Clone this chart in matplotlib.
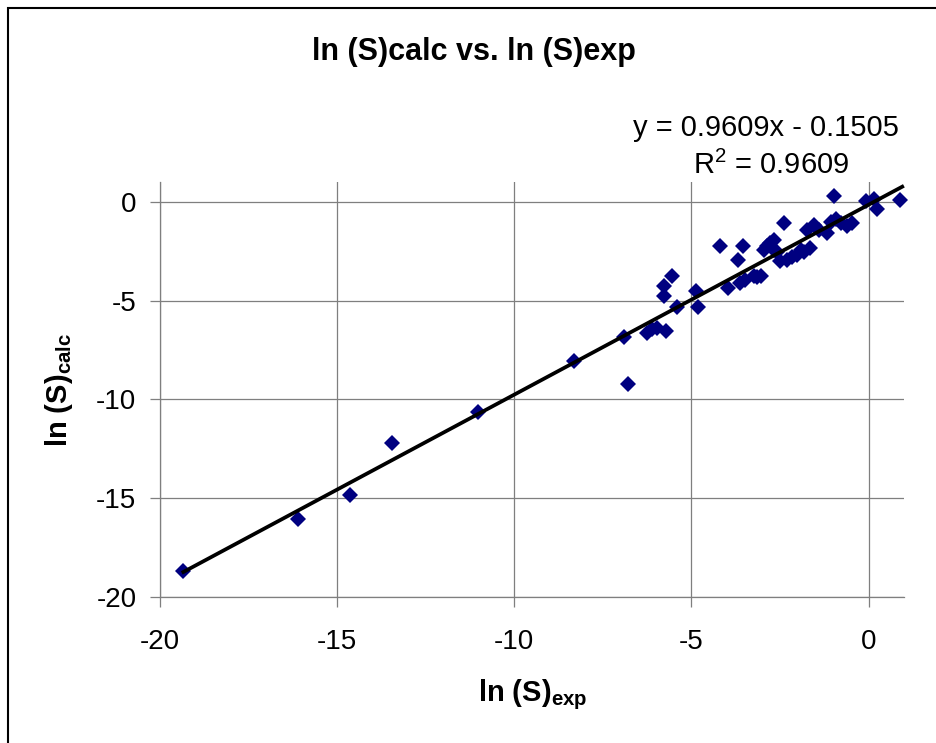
import matplotlib
matplotlib.use("Agg")
import matplotlib.pyplot as plt
import numpy as np
from matplotlib.patches import Rectangle

plt.rcParams['font.family'] = ['Liberation Sans', 'DejaVu Sans']
plt.rcParams['mathtext.fontset'] = 'custom'
plt.rcParams['mathtext.rm'] = 'Liberation Sans'
plt.rcParams['mathtext.bf'] = 'Liberation Sans:bold'
plt.rcParams['axes.unicode_minus'] = False

# Data
ln_s_exp = [-19.34, -16.11, -14.65, -13.46, -11.03, -8.32, -6.91, -6.78,
            -6.25, -6.10, -5.97, -5.72, -5.78, -5.55, -5.78, -5.42,
            -4.87, -4.81, -4.20, -3.96, -3.68, -3.54, -3.62, -3.50,
            -3.24, -3.14, -3.05, -2.96, -2.86, -2.77, -2.68, -2.68,
            -2.58, -2.49, -2.39, -2.30, -2.16, -2.01, -1.92, -1.83,
            -1.64, -1.73, -1.55, -1.40, -1.17, -1.07, -0.93, -0.79,
            -0.60, -0.46, -0.98, -0.06, 0.15, 0.25, 0.90]
ln_s_calc = [-18.67, -16.05, -14.82, -12.19, -10.65, -8.04, -6.82, -9.22,
             -6.62, -6.45, -6.40, -6.52, -4.25, -3.78, -4.79, -5.30,
             -4.54, -5.30, -2.26, -4.37, -2.94, -2.26, -4.12, -3.95,
             -3.78, -3.81, -3.78, -2.43, -2.26, -2.09, -1.92, -2.43,
             -2.52, -3.02, -1.05, -2.94, -2.77, -2.68, -2.43, -2.52,
             -2.34, -1.42, -1.16, -1.42, -1.58, -1.00, -0.88, -1.08,
             -1.25, -1.08, 0.30, 0.02, 0.14, -0.37, 0.07]
slope = 0.9609
intercept = -0.1505
r2 = 0.9609
x_ticks = [-20, -15, -10, -5, 0]
y_ticks = [-20, -15, -10, -5, 0]

W, H = 937, 743
fig = plt.figure(figsize=(W / 100, H / 100), dpi=100)
fig.patch.set_facecolor('white')
fig.patches.append(Rectangle((8 / W, -0.1), 2, 1.1 - 8 / H, transform=fig.transFigure,
                             fill=False, edgecolor='black', linewidth=1.5))

ax = fig.add_axes([160 / W, 1 - 597 / H, (904 - 160) / W, (597 - 182) / H])
ax.set_xlim(-20, 1)
ax.set_ylim(-20, 1)
ax.set_xticks(x_ticks)
ax.set_yticks(y_ticks)
ax.grid(True, color='#7f7f7f', linewidth=0.9)
ax.set_axisbelow(True)
for s in ['top', 'right']:
    ax.spines[s].set_visible(False)
for s in ['left', 'bottom']:
    ax.spines[s].set_color('#7f7f7f')
    ax.spines[s].set_linewidth(0.9)
ax.tick_params(axis='both', colors='#7f7f7f', length=7, width=0.9, labelsize=20,
               labelcolor='black')
ax.tick_params(axis='x', pad=16)
ax.tick_params(axis='y', pad=10)

ax.plot(ln_s_exp, ln_s_calc, linestyle='none', marker='D', markersize=8.5,
        color='#000080', markeredgewidth=0, zorder=3, clip_on=False)
xl = np.array([min(ln_s_exp), max(ln_s_exp) + 0.05])
ax.plot(xl, slope * xl + intercept, color='black', linewidth=2.7, zorder=4,
        clip_on=False)

fig.text(474 / W, 1 - 52 / H, 'ln (S)calc vs. ln (S)exp', ha='center', va='center',
         fontsize=22, fontweight='bold')
fig.text(899 / W, 1 - 128 / H, f'y = {slope:.4f}x - {abs(intercept):.4f}',
         ha='right', va='center', fontsize=21)
fig.text(771 / W, 1 - 165 / H, f'R$^2$ = {r2:.4f}', ha='center', va='center',
         fontsize=21)

fig.text(533 / W, 1 - 695 / H, r'ln (S)$_{\mathbf{exp}}$', ha='center', va='center',
         fontsize=21, fontweight='bold')
fig.text(59 / W, 1 - 390 / H, r'ln (S)$_{\mathbf{calc}}$', ha='center', va='center',
         fontsize=21, fontweight='bold', rotation=90)

fig.savefig('out.png', dpi=100)
